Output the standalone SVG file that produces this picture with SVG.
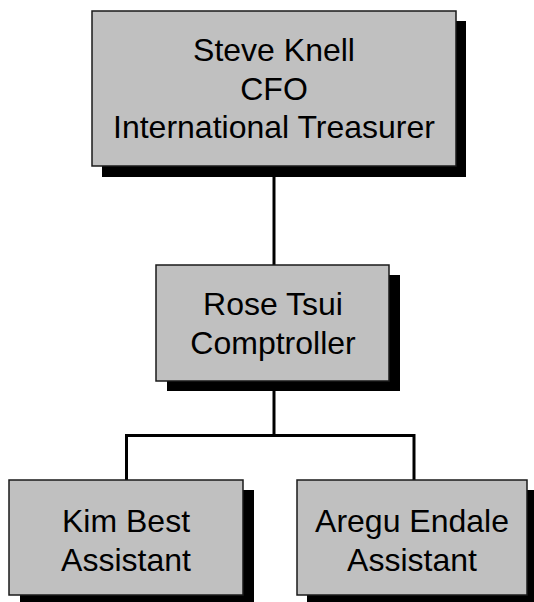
<svg xmlns="http://www.w3.org/2000/svg" width="534" height="602" viewBox="0 0 534 602">
<style>
.shadow{fill:#000}
.box{fill:#c0c0c0;stroke:#1a1a1a;stroke-width:1.5}
.lbl{font-family:"Liberation Sans",Arial,sans-serif;font-size:32px;fill:#000;text-anchor:middle}
.conn{stroke:#000;stroke-width:3;fill:none}
</style>
<rect width="534" height="602" fill="#fff"/>
<g id="connectors">
<line class="conn" x1="274" y1="166" x2="274" y2="265"/>
<line class="conn" x1="274" y1="381" x2="274" y2="435.5"/>
<polyline class="conn" points="126.5,480 126.5,435.5 414,435.5 414,480"/>
</g>
<g id="steve">
<rect class="shadow" x="102" y="21" width="364" height="156"/>
<rect class="box" x="92" y="11" width="364" height="155"/>
<text class="lbl" x="274" y="61">Steve Knell</text>
<text class="lbl" x="274" y="100">CFO</text>
<text class="lbl" x="274" y="138">International Treasurer</text>
</g>
<g id="rose">
<rect class="shadow" x="167" y="275" width="233" height="116"/>
<rect class="box" x="156" y="265" width="233" height="116"/>
<text class="lbl" x="273" y="315">Rose Tsui</text>
<text class="lbl" x="273" y="354">Comptroller</text>
</g>
<g id="kim">
<rect class="shadow" x="20" y="490" width="234" height="112"/>
<rect class="box" x="9" y="480" width="234" height="115"/>
<text class="lbl" x="126" y="532">Kim Best</text>
<text class="lbl" x="126" y="571">Assistant</text>
</g>
<g id="aregu">
<rect class="shadow" x="307" y="490" width="231" height="112"/>
<rect class="box" x="297" y="480" width="230" height="115"/>
<text class="lbl" x="412" y="532">Aregu Endale</text>
<text class="lbl" x="412" y="571">Assistant</text>
</g>
</svg>
